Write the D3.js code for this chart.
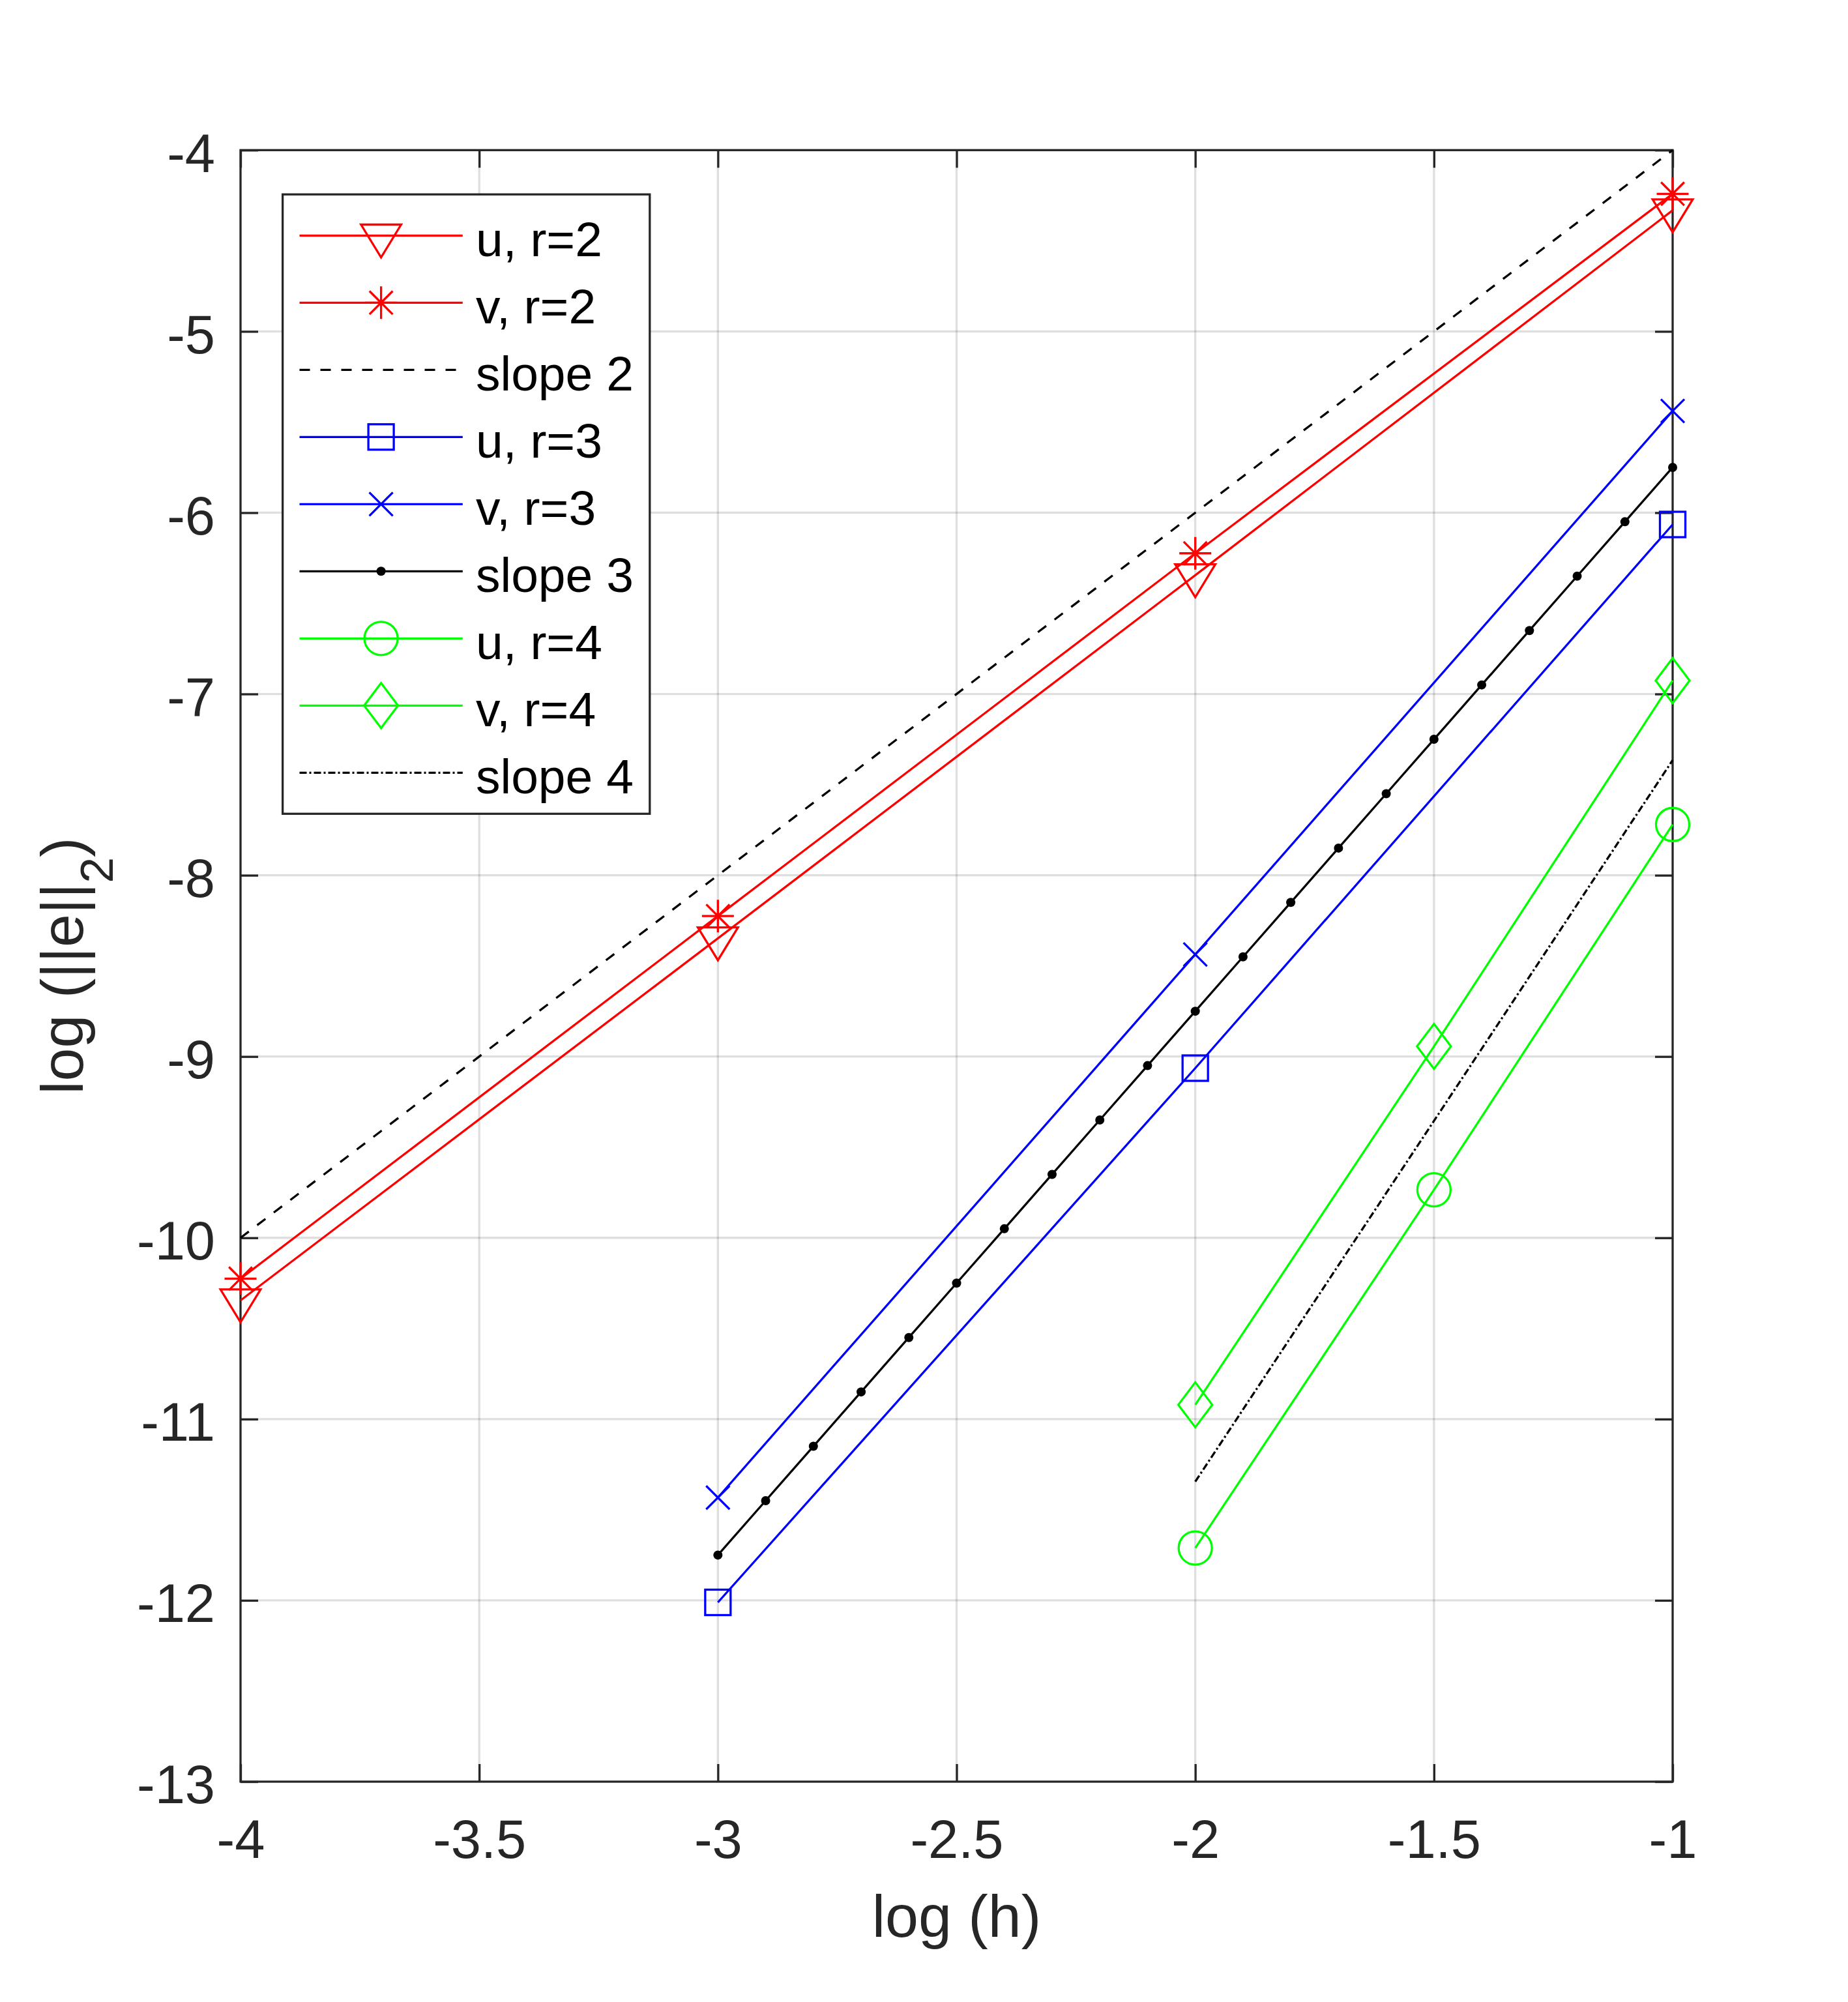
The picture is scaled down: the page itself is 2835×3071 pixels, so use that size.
<!DOCTYPE html>
<html><head><meta charset="utf-8">
<script src="https://cdn.jsdelivr.net/npm/d3@7"></script>
<style>html,body{margin:0;padding:0;background:#fff} svg{display:block}</style>
</head><body>
<script>
// ---------- data ----------
const xTicks = [-4, -3.5, -3, -2.5, -2, -1.5, -1];
const xTickLabels = ["-4", "-3.5", "-3", "-2.5", "-2", "-1.5", "-1"];
const yTicks = [-13, -12, -11, -10, -9, -8, -7, -6, -5, -4];
const yTickLabels = ["-13", "-12", "-11", "-10", "-9", "-8", "-7", "-6", "-5", "-4"];

const hR2 = [-4, -3, -2, -1];
const uR2 = [-10.345, -8.348, -6.345, -4.332];
const vR2 = [-10.225, -8.225, -6.224, -4.241];
const hSlope2 = [-4, -1];
const slope2 = [-10, -4];

const hR3 = [-3, -2, -1];
const uR3 = [-12.011, -9.064, -6.065];
const vR3 = [-11.433, -8.437, -5.439];
const hSlope3 = [-3, -2.9, -2.8, -2.7, -2.6, -2.5, -2.4, -2.3, -2.2, -2.1, -2,
                 -1.9, -1.8, -1.7, -1.6, -1.5, -1.4, -1.3, -1.2, -1.1, -1];
const slope3 = [-11.75, -11.45, -11.15, -10.85, -10.55, -10.25, -9.95, -9.65, -9.35, -9.05, -8.75,
                -8.45, -8.15, -7.85, -7.55, -7.25, -6.95, -6.65, -6.35, -6.05, -5.75];

const hR4 = [-2, -1.5, -1];
const uR4 = [-11.711, -9.735, -7.72];
const vR4 = [-10.921, -8.944, -6.926];
const hSlope4 = [-2, -1];
const slope4 = [-11.345, -7.365];

const seriesLabels = ["u, r=2", "v, r=2", "slope 2", "u, r=3", "v, r=3", "slope 3", "u, r=4", "v, r=4", "slope 4"];
const xLabel = "log (h)";

// ---------- layout ----------
const W = 2835, H = 3071;
const L = 369, R = 2566, T = 230.3, B = 2733;
const FONT = "'Liberation Sans', Arial, Helvetica, sans-serif";
const AX = "#262626";
const LW = 3.3;

const series = [
  {x: hR2, y: uR2, color: "#ff0000", dash: null, marker: "triDown"},
  {x: hR2, y: vR2, color: "#ff0000", dash: null, marker: "asterisk"},
  {x: hSlope2, y: slope2, color: "#000000", dash: "16,16", marker: null},
  {x: hR3, y: uR3, color: "#0000ff", dash: null, marker: "square"},
  {x: hR3, y: vR3, color: "#0000ff", dash: null, marker: "xcross"},
  {x: hSlope3, y: slope3, color: "#000000", dash: null, marker: "dot"},
  {x: hR4, y: uR4, color: "#00ff00", dash: null, marker: "circle"},
  {x: hR4, y: vR4, color: "#00ff00", dash: null, marker: "diamond"},
  {x: hSlope4, y: slope4, color: "#000000", dash: "11,4,3,4", marker: null}
];
series.forEach((s, i) => s.label = seriesLabels[i]);

const svg = d3.select("body").append("svg").attr("width", W).attr("height", H)
  .style("font-family", FONT);
svg.append("rect").attr("width", W).attr("height", H).attr("fill", "#fff");

const x = d3.scaleLinear().domain([-4, -1]).range([L, R]);
const y = d3.scaleLinear().domain([-13, -4]).range([B, T]);

// grid
const grid = svg.append("g").attr("stroke", AX).attr("stroke-opacity", 0.15).attr("stroke-width", LW);
grid.selectAll(".gx").data(xTicks.slice(1, -1)).join("line")
  .attr("x1", d => x(d)).attr("x2", d => x(d)).attr("y1", T).attr("y2", B);
grid.selectAll(".gy").data(yTicks.slice(1, -1)).join("line")
  .attr("y1", d => y(d)).attr("y2", d => y(d)).attr("x1", L).attr("x2", R);

// axes
function styleAxis(g) {
  g.select(".domain").remove();
  g.selectAll(".tick line").attr("stroke", AX).attr("stroke-width", LW);
  g.selectAll(".tick text").attr("fill", AX).style("font-family", FONT).attr("font-size", 83);
}
const xAxis = svg.append("g").attr("transform", `translate(0,${B})`)
  .call(d3.axisBottom(x).tickValues(xTicks).tickFormat((d, i) => xTickLabels[i]).tickSizeInner(-27).tickSizeOuter(0))
  .call(styleAxis);
xAxis.selectAll(".tick text").attr("y", 117).attr("dy", 0);

const yAxis = svg.append("g").attr("transform", `translate(${L},0)`)
  .call(d3.axisLeft(y).tickValues(yTicks).tickFormat((d, i) => yTickLabels[i]).tickSizeInner(-27).tickSizeOuter(0))
  .call(styleAxis);
yAxis.selectAll(".tick text").attr("x", -39).attr("dy", "0.395em");

svg.append("g").attr("transform", `translate(0,${T})`)
  .call(d3.axisTop(x).tickValues(xTicks).tickFormat("").tickSizeInner(-27).tickSizeOuter(0))
  .call(styleAxis);
svg.append("g").attr("transform", `translate(${R},0)`)
  .call(d3.axisRight(y).tickValues(yTicks).tickFormat("").tickSizeInner(-27).tickSizeOuter(0))
  .call(styleAxis);

// box
svg.append("rect").attr("x", L).attr("y", T).attr("width", R - L).attr("height", B - T)
  .attr("fill", "none").attr("stroke", AX).attr("stroke-width", LW);

// markers
function drawMarker(g, type, color) {
  const st = sel => sel.attr("fill", "none").attr("stroke", color).attr("stroke-width", LW);
  switch (type) {
    case "triDown": g.append("path").attr("d", "M-30.8,-16.8L30.8,-16.8L0,33.6Z").call(st); break;
    case "asterisk": g.append("path").attr("d", "M0,-25V25M-24.5,0H24.5M-17.8,-17.8L17.8,17.8M-17.8,17.8L17.8,-17.8").call(st); break;
    case "square": g.append("rect").attr("x", -19.5).attr("y", -19.5).attr("width", 39).attr("height", 39).call(st); break;
    case "xcross": g.append("path").attr("d", "M-18,-18L18,18M-18,18L18,-18").call(st); break;
    case "circle": g.append("circle").attr("r", 25.5).call(st); break;
    case "diamond": g.append("path").attr("d", "M0,-34.5L26,0L0,34.5L-26,0Z").call(st); break;
    case "dot": g.append("circle").attr("r", 7).attr("fill", color); break;
  }
}

// data
const line = d3.line().x(d => x(d[0])).y(d => y(d[1]));
const plot = svg.append("g");
series.forEach(s => {
  const pts = s.x.map((v, i) => [v, s.y[i]]);
  const g = plot.append("g");
  g.append("path").attr("d", line(pts)).attr("fill", "none").attr("stroke", s.color)
    .attr("stroke-width", LW).attr("stroke-dasharray", s.dash);
  if (s.marker) {
    pts.forEach(p => {
      const mg = g.append("g").attr("transform", `translate(${x(p[0])},${y(p[1])})`);
      drawMarker(mg, s.marker, s.color);
    });
  }
});

// legend
const LG = {x0: 433.6, y0: 298.2, x1: 996.8, y1: 1248.3, lineX0: 459.5, lineX1: 709.8, markX: 584.6,
            textX: 730, firstY: 361.3, step: 103};
const lg = svg.append("g");
lg.append("rect").attr("x", LG.x0).attr("y", LG.y0).attr("width", LG.x1 - LG.x0).attr("height", LG.y1 - LG.y0)
  .attr("fill", "#fff").attr("stroke", AX).attr("stroke-width", LW);
series.forEach((s, i) => {
  const yy = LG.firstY + i * LG.step;
  lg.append("line").attr("x1", LG.lineX0).attr("x2", LG.lineX1).attr("y1", yy).attr("y2", yy)
    .attr("stroke", s.color).attr("stroke-width", LW).attr("stroke-dasharray", s.dash);
  if (s.marker) drawMarker(lg.append("g").attr("transform", `translate(${LG.markX},${yy})`), s.marker, s.color);
  lg.append("text").attr("x", LG.textX).attr("y", yy + 32).attr("font-size", 75).attr("fill", "#000").text(s.label);
});

// axis labels
svg.append("text").attr("x", (L + R) / 2).attr("y", 2970.7).attr("text-anchor", "middle")
  .attr("font-size", 91.6).attr("fill", AX).text(xLabel);

const yl = svg.append("text").attr("transform", `translate(126.7,${(T + B) / 2}) rotate(-90)`)
  .attr("text-anchor", "middle").attr("font-size", 91.6).attr("fill", AX);
yl.append("tspan").text("log (||e||");
yl.append("tspan").attr("font-size", 71).attr("dy", 46).text("2");
yl.append("tspan").attr("dy", -46).text(")");
</script>
</body></html>
